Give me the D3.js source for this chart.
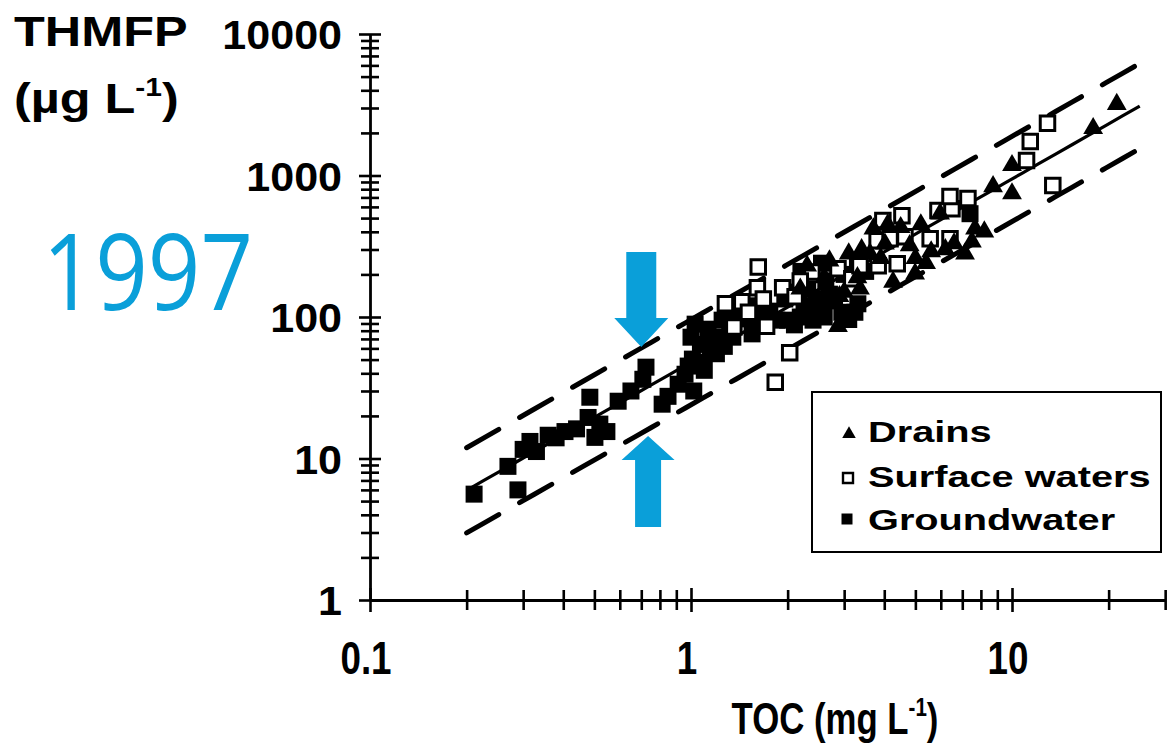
<!DOCTYPE html>
<html>
<head>
<meta charset="utf-8">
<script src="https://cdn.jsdelivr.net/npm/d3@7"></script>
<style>
  html, body { margin: 0; padding: 0; background: #fff; overflow: hidden; }
  text { font-family: "Liberation Sans", Arial, sans-serif; font-weight: bold; fill: #000; }
</style>
</head>
<body>
<svg id="chart" width="1170" height="746"></svg>
<script>
// THMFP vs TOC, log-log, three water types
const groundwater = [
  [0.211, 5.6], [0.289, 6.0], [0.269, 8.8], [0.300, 11.6], [0.315, 13.2], [0.33, 11.2],
  [0.359, 14.6], [0.38, 14.0], [0.405, 15.5], [0.44, 16.2], [0.478, 19.5], [0.484, 27.1],
  [0.502, 14.1], [0.52, 17.5], [0.547, 15.5], [0.593, 25.4], [0.65, 30], [0.708, 36.3],
  [0.724, 44.2], [0.813, 24.2], [0.848, 27.5], [0.912, 33.5], [0.958, 39.4], [0.98, 45],
  [1.01, 50.4], [1.0, 72], [1.03, 89], [1.07, 64], [1.08, 48], [1.13, 82], [1.15, 60],
  [1.18, 72], [1.23, 70], [1.25, 95], [1.32, 85], [1.44, 97], [1.55, 76], [1.6, 100],
  [1.7, 92], [1.76, 110], [1.96, 134], [2.0, 95], [2.19, 100], [2.31, 158], [2.4, 95],
  [2.52, 114], [2.63, 180], [2.8, 130], [3.24, 108], [3.31, 124], [7.4, 537],
  [1.02, 30], [1.1, 42], [1.2, 55], [1.27, 62], [1.35, 72], [1.4, 110], [1.5, 120],
  [1.58, 90], [1.65, 105], [1.85, 95], [2.1, 88], [2.25, 120], [2.45, 135], [2.6, 100],
  [2.7, 145], [2.95, 108], [3.1, 96], [2.05, 150], [2.2, 210], [2.55, 240], [3.0, 200],
  [3.3, 250], [3.5, 210]
];
const surfaceWaters = [
  [1.62, 226], [1.61, 161], [1.93, 161], [1.68, 134], [1.44, 128], [1.51, 108],
  [1.36, 85], [1.72, 86], [2.03, 56], [1.83, 34.6], [2.38, 208], [2.87, 219],
  [3.17, 186], [2.11, 139], [3.83, 230], [4.39, 238], [3.80, 346], [4.17, 357],
  [4.64, 369], [3.96, 480], [4.54, 520], [5.56, 357], [6.41, 357], [5.88, 565],
  [6.50, 583], [6.41, 710], [7.29, 687], [11.4, 1742], [11.1, 1277], [12.9, 2339],
  [13.4, 849], [3.36, 230], [1.28, 124], [2.19, 180]
];
const drains = [
  [2.87, 86], [3.61, 280], [4.26, 177], [3.36, 158], [4.99, 202], [7.14, 280],
  [8.73, 836], [10.0, 745], [10.0, 1180], [17.9, 2155], [21.2, 3190], [2.19, 158],
  [5.97, 537], [7.67, 421], [4.02, 329], [2.6, 190], [3.0, 150], [5.4, 240], [6.2, 300],
  [2.3, 230], [2.7, 250], [3.1, 280], [3.4, 300], [3.7, 420], [4.1, 450], [4.5, 430],
  [3.3, 190], [3.9, 260], [4.8, 320], [5.2, 450], [2.4, 120], [2.9, 140],
  [5.0, 260], [5.6, 290], [6.6, 330], [7.5, 340], [8.2, 400]
];

// Fitted power law THMFP = a * TOC^b with factor-of-two bands
const fitA = 47.9, fitB = 1.295;
const bandFactors = [2, 0.5];
const fitRange = [0.2, 25];

// Axis ticks
const xMajor = [0.1, 1, 10];
const xMinor = [0.2, 0.3, 0.4, 0.5, 0.6, 0.7, 0.8, 0.9, 2, 3, 4, 5, 6, 7, 8, 9, 20, 30];
const xLabels = ["0.1", "1", "10"];
const yMajor = [1, 10, 100, 1000, 10000];
const yLabels = ["1", "10", "100", "1000", "10000"];
const yMinor = [];
[1, 10, 100, 1000].forEach(d => { for (let k = 2; k <= 9; k++) yMinor.push(d * k); });

const legendItems = ["Drains", "Surface waters", "Groundwater"];
const blue = "#0a9fd9";

const svg = d3.select("#chart");
const x = d3.scaleLog().domain([0.1, 30]).range([370, 370 + 321 * Math.log10(300)]);
const y = d3.scaleLog().domain([1, 10000]).range([600, 34]);

// helper: text with horizontal scaling
function label(parent, px, py, anchor, sx, size) {
  const g = parent.append("g").attr("transform", `translate(${px},${py}) scale(${sx},1)`);
  return g.append("text").attr("text-anchor", anchor).attr("font-size", size);
}

// Blue citation year (runs off the left edge)
label(svg, 253, 310, "end", 0.86, 107)
  .style("font-family", "'Open Sans', sans-serif")
  .style("font-weight", "normal")
  .style("fill", blue)
  .text("et al.,\u2009 1997");

// Fit lines
const fitLine = d3.line().x(d => x(d[0])).y(d => y(d[1]));
const fitPts = k => d3.range(0, 41).map(i => {
  const t = Math.pow(10, Math.log10(fitRange[0]) + i / 40 * (Math.log10(fitRange[1]) - Math.log10(fitRange[0])));
  return [t, k * fitA * Math.pow(t, fitB)];
});
svg.append("path").attr("d", fitLine(fitPts(1)))
  .attr("fill", "none").attr("stroke", "#000").attr("stroke-width", 3.2);
bandFactors.forEach(k => {
  svg.append("path").attr("d", fitLine(fitPts(k)))
    .attr("fill", "none").attr("stroke", "#000").attr("stroke-width", 5)
    .attr("stroke-dasharray", "37,24").attr("stroke-linecap", "round");
});

// Axes
const gy = svg.append("g").attr("transform", "translate(370,0)")
  .call(d3.axisLeft(y).tickValues(yMajor.concat(yMinor)).tickFormat(() => "").tickSizeInner(18).tickSizeOuter(0));
gy.selectAll(".tick line").attr("x1", d => yMajor.includes(d) ? 11 : 9).attr("x2", d => yMajor.includes(d) ? -11 : -9)
  .attr("stroke", "#000").attr("stroke-width", 2.6);
gy.select(".domain").attr("stroke", "#000").attr("stroke-width", 2.8);

const gx = svg.append("g").attr("transform", "translate(0,600)")
  .call(d3.axisBottom(x).tickValues(xMajor.concat(xMinor)).tickFormat(() => "").tickSizeInner(20).tickSizeOuter(0));
gx.selectAll(".tick line").attr("y1", d => xMajor.includes(d) ? -12 : -10).attr("y2", d => xMajor.includes(d) ? 12 : 10)
  .attr("stroke", "#000").attr("stroke-width", 2.6);
gx.select(".domain").attr("stroke", "#000").attr("stroke-width", 2.8);

// Tick labels
yMajor.forEach((v, i) => label(svg, 342, y(v) + 15, "end", 1.05, 41).text(yLabels[i]));
xMajor.forEach((v, i) => label(svg, x(v) - 4, 674, "middle", 0.8, 46).text(xLabels[i]));

// Axis titles
label(svg, 14, 46, "start", 1.2, 42).text("THMFP");
const yt = label(svg, 14, 113, "start", 1.2, 42);
yt.append("tspan").text("(\u00b5g L");
yt.append("tspan").attr("font-size", 25).attr("dy", -17).text("-1");
yt.append("tspan").attr("dy", 17).text(")");

const xt = label(svg, 835, 734, "middle", 0.79, 44);
xt.append("tspan").text("TOC (mg L");
xt.append("tspan").attr("font-size", 26).attr("dy", -18).text("-1");
xt.append("tspan").attr("dy", 18).text(")");

// Points
const sq = d3.symbol().type(d3.symbolSquare);
const tri = d3.symbol().type(d3.symbolTriangle);
svg.append("g").selectAll("path").data(groundwater).join("path")
  .attr("transform", d => `translate(${x(d[0])},${y(d[1])})`)
  .attr("d", sq.size(17 * 17)).attr("fill", "#000");
svg.append("g").selectAll("path").data(surfaceWaters).join("path")
  .attr("transform", d => `translate(${x(d[0])},${y(d[1])})`)
  .attr("d", sq.size(14.5 * 14.5)).attr("fill", "#fff").attr("stroke", "#000").attr("stroke-width", 3);
svg.append("g").selectAll("path").data(drains).join("path")
  .attr("transform", d => `translate(${x(d[0])},${y(d[1])})`)
  .attr("d", tri.size(170)).attr("fill", "#000");

// Blue arrows marking the band width
function arrow(tipX, tipY, dir, headHalf, headLen, shaftHalf, shaftLen) {
  const b = tipY - dir * headLen, e = b - dir * shaftLen;
  const pts = [[tipX, tipY], [tipX + headHalf, b], [tipX + shaftHalf, b], [tipX + shaftHalf, e],
               [tipX - shaftHalf, e], [tipX - shaftHalf, b], [tipX - headHalf, b]];
  svg.append("polygon").attr("points", pts.map(p => p.join(",")).join(" ")).attr("fill", blue);
}
arrow(x(0.70), 347, 1, 27, 29, 15, 66);
arrow(x(0.735), 436, -1, 26.5, 24, 13, 67);

// Legend
const lg = svg.append("g");
lg.append("rect").attr("x", 812).attr("y", 392).attr("width", 349).attr("height", 160)
  .attr("fill", "#fff").attr("stroke", "#000").attr("stroke-width", 2);
const rows = [433, 478, 519];
lg.append("path").attr("transform", `translate(849,${rows[0] + 1})`).attr("d", tri.size(80)).attr("fill", "#000");
lg.append("path").attr("transform", `translate(848,${rows[1]})`).attr("d", sq.size(100))
  .attr("fill", "#fff").attr("stroke", "#000").attr("stroke-width", 2.4);
lg.append("path").attr("transform", `translate(847,${rows[2]})`).attr("d", sq.size(121)).attr("fill", "#000");
const legBase = [442, 487, 530];
legendItems.forEach((s, i) => label(lg, 868, legBase[i], "start", 1.37, 29).text(s));
</script>
</body>
</html>
